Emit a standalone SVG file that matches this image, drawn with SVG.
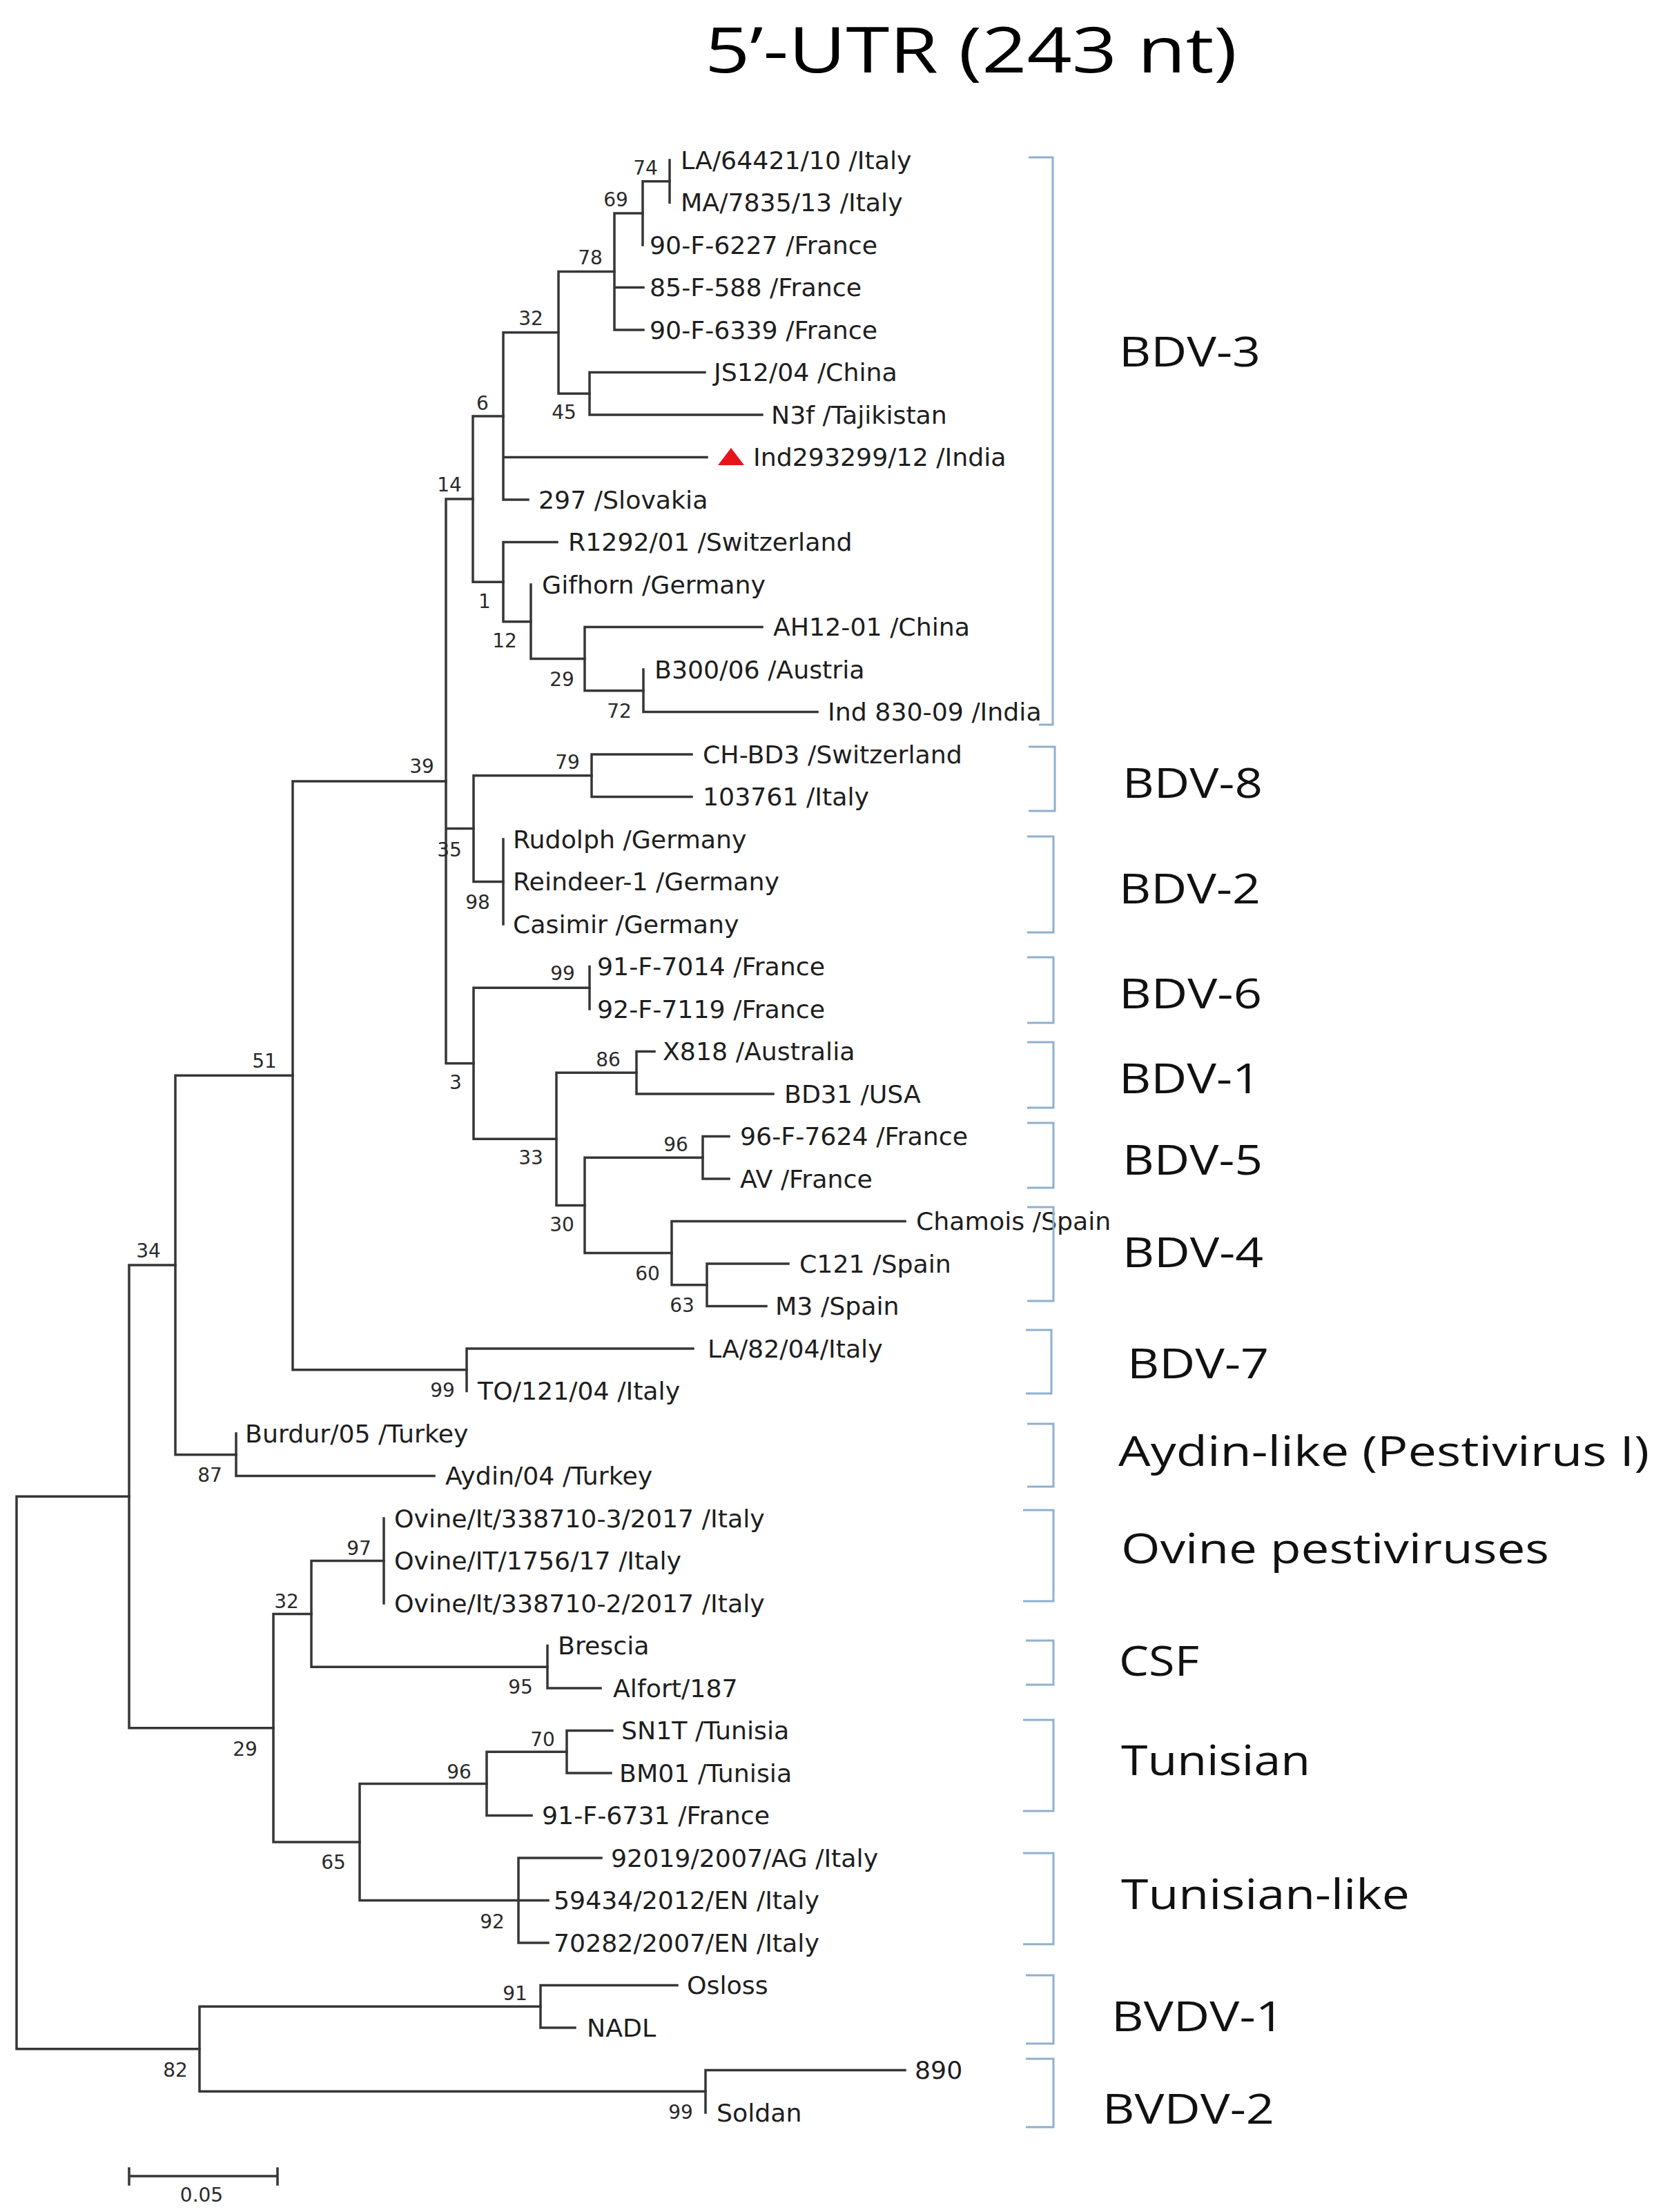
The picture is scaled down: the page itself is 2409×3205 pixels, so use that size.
<svg xmlns="http://www.w3.org/2000/svg" width="2409" height="3205" viewBox="0 0 2409 3205">
<style>
.br{fill:none;stroke:#363636;stroke-width:3.5;stroke-linecap:square}
.lf{font-family:"DejaVu Sans",Verdana,sans-serif;font-size:36.3px;fill:#1e1e1e}
.bs{font-family:"DejaVu Sans",Verdana,sans-serif;font-size:28px;fill:#2a2a2a;text-anchor:middle}
.bk{fill:none;stroke:#8fb0cf;stroke-width:3}
.gl{font-family:"Open Sans","Noto Sans","DejaVu Sans",sans-serif;font-size:60px;fill:#111}
.tt{font-family:"Open Sans","Noto Sans","DejaVu Sans",sans-serif;font-size:92px;fill:#000}
</style>
<rect width="2409" height="3205" fill="#fff"/>
<text id="title" class="tt" x="1021" y="105" textLength="771" lengthAdjust="spacingAndGlyphs">5’-UTR (243 nt)</text>

<g id="connectors">
<path class="br" d="M970,232 V293.5"/>
<path class="br" d="M931,262.75 V355 M931,262.75 H970"/>
<path class="br" d="M890,308.9 V478 M890,308.9 H931 M890,416.5 H932 M890,478 H932"/>
<path class="br" d="M854,539.5 V601 M854,539.5 H1021 M854,601 H1104"/>
<path class="br" d="M809,393.4 V570.25 M809,393.4 H890 M809,570.25 H854"/>
<path class="br" d="M729,481.8 V724 M729,481.8 H809 M729,662.5 H1024 M729,724 H765"/>
<path class="br" d="M932,970 V1031.5 M932,1031.5 H1184"/>
<path class="br" d="M847,908.5 V1000.75 M847,908.5 H1104 M847,1000.75 H932"/>
<path class="br" d="M769,847 V954.6 M769,954.6 H847"/>
<path class="br" d="M729,785.5 V900.8 M729,785.5 H807 M729,900.8 H769"/>
<path class="br" d="M685,602.9 V843.2 M685,602.9 H729 M685,843.2 H729"/>
<path class="br" d="M857,1093 V1154.5 M857,1093 H1002 M857,1154.5 H1002"/>
<path class="br" d="M729,1216 V1339"/>
<path class="br" d="M686,1123.75 V1277.5 M686,1123.75 H857 M686,1277.5 H729"/>
<path class="br" d="M854,1400.5 V1462"/>
<path class="br" d="M922,1523.5 V1585 M922,1523.5 H948 M922,1585 H1120"/>
<path class="br" d="M1018,1646.5 V1708 M1018,1646.5 H1056 M1018,1708 H1056"/>
<path class="br" d="M1024,1831 V1892.5 M1024,1831 H1142 M1024,1892.5 H1110"/>
<path class="br" d="M973,1769.5 V1861.75 M973,1769.5 H1311 M973,1861.75 H1024"/>
<path class="br" d="M847,1677.25 V1815.6 M847,1677.25 H1018 M847,1815.6 H973"/>
<path class="br" d="M806,1554.25 V1746.4 M806,1554.25 H922 M806,1746.4 H847"/>
<path class="br" d="M686,1431.25 V1650.3 M686,1431.25 H854 M686,1650.3 H806"/>
<path class="br" d="M646,723 V1540.8 M646,723 H685 M646,1200.6 H686 M646,1540.8 H686"/>
<path class="br" d="M676,1954 V2015.5 M676,1954 H1004"/>
<path class="br" d="M424,1131.9 V1984.75 M424,1131.9 H646 M424,1984.75 H676"/>
<path class="br" d="M342,2077 V2138.5 M342,2138.5 H629"/>
<path class="br" d="M254,1558.3 V2107.75 M254,1558.3 H424 M254,2107.75 H342"/>
<path class="br" d="M556,2200 V2323"/>
<path class="br" d="M793,2384.5 V2446 M793,2446 H870"/>
<path class="br" d="M451,2261.5 V2415.25 M451,2261.5 H556 M451,2415.25 H793"/>
<path class="br" d="M821,2507.5 V2569 M821,2507.5 H887 M821,2569 H885"/>
<path class="br" d="M705,2538.25 V2630.5 M705,2538.25 H821 M705,2630.5 H770"/>
<path class="br" d="M751,2692 V2815 M751,2692 H871 M751,2815 H794"/>
<path class="br" d="M521,2584.4 V2753.5 M521,2584.4 H705 M521,2753.5 H794"/>
<path class="br" d="M396,2338.4 V2669 M396,2338.4 H451 M396,2669 H521"/>
<path class="br" d="M187,1833 V2503.7 M187,1833 H254 M187,2503.7 H396"/>
<path class="br" d="M783,2876.5 V2938 M783,2876.5 H981 M783,2938 H833"/>
<path class="br" d="M1022,2999.5 V3061 M1022,2999.5 H1311"/>
<path class="br" d="M289,2907.25 V3030.25 M289,2907.25 H783 M289,3030.25 H1022"/>
<path class="br" d="M24,2168.3 V2968.75 M24,2168.3 H187 M24,2968.75 H289"/>
</g>

<g id="leaves">
<g id="leaf1"><text class="lf" x="986" y="244.5">LA/64421/10 /Italy</text></g>
<g id="leaf2"><text class="lf" x="986" y="306">MA/7835/13 /Italy</text></g>
<g id="leaf3"><text class="lf" x="941" y="367.5">90-F-6227 /France</text></g>
<g id="leaf4"><text class="lf" x="941" y="429">85-F-588 /France</text></g>
<g id="leaf5"><text class="lf" x="941" y="490.5">90-F-6339 /France</text></g>
<g id="leaf6"><text class="lf" x="1034" y="552">JS12/04 /China</text></g>
<g id="leaf7"><text class="lf" x="1117" y="613.5">N3f /Tajikistan</text></g>
<g id="leaf8"><polygon points="1040,674 1078,674 1059,649" fill="#e8141c"/><text class="lf" x="1091" y="675">Ind293299/12 /India</text></g>
<g id="leaf9"><text class="lf" x="780" y="736.5">297 /Slovakia</text></g>
<g id="leaf10"><text class="lf" x="823" y="798">R1292/01 /Switzerland</text></g>
<g id="leaf11"><text class="lf" x="785" y="859.5">Gifhorn /Germany</text></g>
<g id="leaf12"><text class="lf" x="1120" y="921">AH12-01 /China</text></g>
<g id="leaf13"><text class="lf" x="948" y="982.5">B300/06 /Austria</text></g>
<g id="leaf14"><text class="lf" x="1199" y="1044">Ind 830-09 /India</text></g>
<g id="leaf15"><text class="lf" x="1018" y="1105.5">CH-BD3 /Switzerland</text></g>
<g id="leaf16"><text class="lf" x="1018" y="1167">103761 /Italy</text></g>
<g id="leaf17"><text class="lf" x="743" y="1228.5">Rudolph /Germany</text></g>
<g id="leaf18"><text class="lf" x="743" y="1290">Reindeer-1 /Germany</text></g>
<g id="leaf19"><text class="lf" x="743" y="1351.5">Casimir /Germany</text></g>
<g id="leaf20"><text class="lf" x="865" y="1413">91-F-7014 /France</text></g>
<g id="leaf21"><text class="lf" x="865" y="1474.5">92-F-7119 /France</text></g>
<g id="leaf22"><text class="lf" x="960" y="1536">X818 /Australia</text></g>
<g id="leaf23"><text class="lf" x="1136" y="1597.5">BD31 /USA</text></g>
<g id="leaf24"><text class="lf" x="1072" y="1659">96-F-7624 /France</text></g>
<g id="leaf25"><text class="lf" x="1072" y="1720.5">AV /France</text></g>
<g id="leaf26"><text class="lf" x="1327" y="1782">Chamois /Spain</text></g>
<g id="leaf27"><text class="lf" x="1158" y="1843.5">C121 /Spain</text></g>
<g id="leaf28"><text class="lf" x="1123" y="1905">M3 /Spain</text></g>
<g id="leaf29"><text class="lf" x="1025" y="1966.5">LA/82/04/Italy</text></g>
<g id="leaf30"><text class="lf" x="692" y="2028">TO/121/04 /Italy</text></g>
<g id="leaf31"><text class="lf" x="355" y="2089.5">Burdur/05 /Turkey</text></g>
<g id="leaf32"><text class="lf" x="645" y="2151">Aydin/04 /Turkey</text></g>
<g id="leaf33"><text class="lf" x="571" y="2212.5">Ovine/It/338710-3/2017 /Italy</text></g>
<g id="leaf34"><text class="lf" x="571" y="2274">Ovine/IT/1756/17 /Italy</text></g>
<g id="leaf35"><text class="lf" x="571" y="2335.5">Ovine/It/338710-2/2017 /Italy</text></g>
<g id="leaf36"><text class="lf" x="808" y="2397">Brescia</text></g>
<g id="leaf37"><text class="lf" x="888" y="2458.5">Alfort/187</text></g>
<g id="leaf38"><text class="lf" x="900" y="2520">SN1T /Tunisia</text></g>
<g id="leaf39"><text class="lf" x="897" y="2581.5">BM01 /Tunisia</text></g>
<g id="leaf40"><text class="lf" x="785" y="2643">91-F-6731 /France</text></g>
<g id="leaf41"><text class="lf" x="885" y="2704.5">92019/2007/AG /Italy</text></g>
<g id="leaf42"><text class="lf" x="802" y="2766">59434/2012/EN /Italy</text></g>
<g id="leaf43"><text class="lf" x="802" y="2827.5">70282/2007/EN /Italy</text></g>
<g id="leaf44"><text class="lf" x="995" y="2889">Osloss</text></g>
<g id="leaf45"><text class="lf" x="850" y="2950.5">NADL</text></g>
<g id="leaf46"><text class="lf" x="1325" y="3012">890</text></g>
<g id="leaf47"><text class="lf" x="1038" y="3073.5">Soldan</text></g>
</g>

<g id="bootstrap">
<text class="bs" x="935" y="253">74</text>
<text class="bs" x="892" y="299">69</text>
<text class="bs" x="855" y="383">78</text>
<text class="bs" x="769" y="471">32</text>
<text class="bs" x="817" y="607">45</text>
<text class="bs" x="699" y="594">6</text>
<text class="bs" x="651" y="712">14</text>
<text class="bs" x="702" y="881">1</text>
<text class="bs" x="731" y="938">12</text>
<text class="bs" x="814" y="994">29</text>
<text class="bs" x="897" y="1040">72</text>
<text class="bs" x="822" y="1114">79</text>
<text class="bs" x="611" y="1120">39</text>
<text class="bs" x="651" y="1241">35</text>
<text class="bs" x="692" y="1317">98</text>
<text class="bs" x="815" y="1420">99</text>
<text class="bs" x="881" y="1545">86</text>
<text class="bs" x="383" y="1547">51</text>
<text class="bs" x="660" y="1578">3</text>
<text class="bs" x="979" y="1668">96</text>
<text class="bs" x="769" y="1687">33</text>
<text class="bs" x="814" y="1784">30</text>
<text class="bs" x="938" y="1855">60</text>
<text class="bs" x="988" y="1901">63</text>
<text class="bs" x="215" y="1822">34</text>
<text class="bs" x="641" y="2024">99</text>
<text class="bs" x="304" y="2147">87</text>
<text class="bs" x="520" y="2253">97</text>
<text class="bs" x="415" y="2330">32</text>
<text class="bs" x="754" y="2454">95</text>
<text class="bs" x="786" y="2530">70</text>
<text class="bs" x="355" y="2544">29</text>
<text class="bs" x="665" y="2577">96</text>
<text class="bs" x="483" y="2708">65</text>
<text class="bs" x="713" y="2794">92</text>
<text class="bs" x="746" y="2898">91</text>
<text class="bs" x="254" y="3009">82</text>
<text class="bs" x="986" y="3070">99</text>
</g>

<g id="clade-BDV-3"><path class="bk" d="M1490,228 H1525 V1050 H1505"/><text class="gl" x="1621" y="531" textLength="205" lengthAdjust="spacingAndGlyphs">BDV-3</text></g>
<g id="clade-BDV-8"><path class="bk" d="M1490,1082 H1528 V1175 H1490"/><text class="gl" x="1626" y="1156" textLength="203" lengthAdjust="spacingAndGlyphs">BDV-8</text></g>
<g id="clade-BDV-2"><path class="bk" d="M1488,1212 H1526 V1351 H1488"/><text class="gl" x="1621" y="1309" textLength="205" lengthAdjust="spacingAndGlyphs">BDV-2</text></g>
<g id="clade-BDV-6"><path class="bk" d="M1488,1387 H1526 V1482 H1488"/><text class="gl" x="1621" y="1461" textLength="207" lengthAdjust="spacingAndGlyphs">BDV-6</text></g>
<g id="clade-BDV-1"><path class="bk" d="M1488,1510 H1526 V1605 H1488"/><text class="gl" x="1621" y="1584" textLength="205" lengthAdjust="spacingAndGlyphs">BDV-1</text></g>
<g id="clade-BDV-5"><path class="bk" d="M1488,1627 H1526 V1721 H1488"/><text class="gl" x="1626" y="1702" textLength="203" lengthAdjust="spacingAndGlyphs">BDV-5</text></g>
<g id="clade-BDV-4"><path class="bk" d="M1488,1749 H1526 V1885 H1488"/><text class="gl" x="1626" y="1836" textLength="204" lengthAdjust="spacingAndGlyphs">BDV-4</text></g>
<g id="clade-BDV-7"><path class="bk" d="M1486,1927 H1523 V2019 H1486"/><text class="gl" x="1633" y="1997" textLength="205" lengthAdjust="spacingAndGlyphs">BDV-7</text></g>
<g id="clade-Aydin"><path class="bk" d="M1488,2063 H1526 V2154 H1488"/><text class="gl" x="1620" y="2124" textLength="769" lengthAdjust="spacingAndGlyphs">Aydin-like (Pestivirus I)</text></g>
<g id="clade-Ovine"><path class="bk" d="M1482,2188 H1526 V2320 H1482"/><text class="gl" x="1624" y="2265" textLength="620" lengthAdjust="spacingAndGlyphs">Ovine pestiviruses</text></g>
<g id="clade-CSF"><path class="bk" d="M1486,2377 H1526 V2441 H1486"/><text class="gl" x="1621" y="2428" textLength="116" lengthAdjust="spacingAndGlyphs">CSF</text></g>
<g id="clade-Tunisian"><path class="bk" d="M1482,2492 H1526 V2624 H1482"/><text class="gl" x="1624" y="2572" textLength="274" lengthAdjust="spacingAndGlyphs">Tunisian</text></g>
<g id="clade-Tunisian-like"><path class="bk" d="M1482,2685 H1526 V2817 H1482"/><text class="gl" x="1624" y="2766" textLength="418" lengthAdjust="spacingAndGlyphs">Tunisian-like</text></g>
<g id="clade-BVDV-1"><path class="bk" d="M1486,2862 H1526 V2961 H1486"/><text class="gl" x="1610" y="2943" textLength="250" lengthAdjust="spacingAndGlyphs">BVDV-1</text></g>
<g id="clade-BVDV-2"><path class="bk" d="M1486,2983 H1526 V3082 H1486"/><text class="gl" x="1597" y="3077" textLength="249" lengthAdjust="spacingAndGlyphs">BVDV-2</text></g>

<g id="scale-bar">
<path class="br" d="M187,3153 H402 M187,3142 V3165 M402,3142 V3165"/>
<text class="bs" x="292" y="3190">0.05</text>
</g>
</svg>
